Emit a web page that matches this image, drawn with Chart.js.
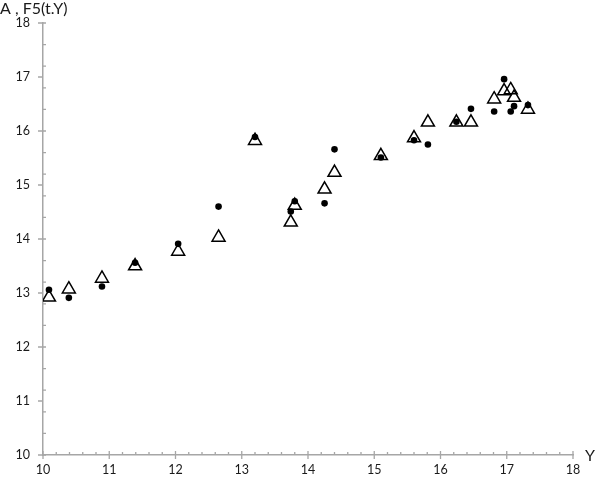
<!DOCTYPE html>
<html>
<head>
<meta charset="utf-8">
<script src="https://cdn.jsdelivr.net/npm/chart.js@4/dist/chart.umd.min.js"></script>
<style>
  html, body { margin: 0; padding: 0; background: #fff; }
  #wrap { width: 596px; height: 477px; position: relative; }
</style>
</head>
<body>
<div id="wrap"><canvas id="c" width="596" height="477"></canvas></div>
<script>
// Y values (x axis)
const yearValues = [10.09, 10.39, 10.89, 11.39, 12.04, 12.65, 13.20, 13.74, 13.80, 14.25, 14.40,
                    15.10, 15.60, 15.81, 16.24, 16.46, 16.81, 16.96, 17.06, 17.11, 17.32];
// A (filled dots)
const seriesA = [13.06, 12.91, 13.12, 13.56, 13.91, 14.60, 15.89, 14.51, 14.70, 14.66, 15.66,
                 15.51, 15.83, 15.75, 16.17, 16.41, 16.36, 16.96, 16.36, 16.46, 16.48];
// F5(t.Y) (open triangles)
const seriesF5 = [12.92, 13.07, 13.27, 13.50, 13.77, 14.03, 15.82, 14.31, 14.62, 14.92, 15.23,
                  15.54, 15.87, 16.16, 16.16, 16.16, 16.59, 16.74, 16.76, 16.62, 16.40];
const axisMin = 10, axisMax = 18;
const yTitle = "A , F5(t.Y)";
const xTitle = "Y";

const AXIS = '#a6a6a6';
const FONT = 'Lato, "Open Sans", sans-serif';

const toPts = (xs, ys) => xs.map((x, i) => ({x: x, y: ys[i]}));

const decor = {
  id: 'decor',
  afterDraw(chart) {
    const ctx = chart.ctx;
    const xs = chart.scales.x, ys = chart.scales.y;
    const x0 = xs.getPixelForValue(axisMin);
    const y0 = ys.getPixelForValue(axisMin);
    ctx.save();
    ctx.strokeStyle = AXIS;
    ctx.lineWidth = 1.3;
    ctx.beginPath();
    // y minor ticks every 0.4 (to the right)
    for (let k = 0; k <= 20; k++) {
      const py = ys.getPixelForValue(axisMin + k * 0.4);
      ctx.moveTo(x0, py); ctx.lineTo(x0 + 3, py);
    }
    // y major ticks (to the left)
    for (let v = axisMin; v <= axisMax; v++) {
      const py = ys.getPixelForValue(v);
      ctx.moveTo(x0 - 5, py); ctx.lineTo(x0, py);
    }
    // x minor ticks every 0.2 (above)
    for (let k = 0; k <= 40; k++) {
      const px = xs.getPixelForValue(axisMin + k * 0.2);
      ctx.moveTo(px, y0); ctx.lineTo(px, y0 - 3);
    }
    // x major ticks (crossing)
    for (let v = axisMin; v <= axisMax; v++) {
      const px = xs.getPixelForValue(v);
      ctx.moveTo(px, y0 - 4); ctx.lineTo(px, y0 + 4);
    }
    ctx.stroke();
    // titles
    ctx.fillStyle = '#1a1a1a';
    ctx.font = '16px ' + FONT;
    ctx.textBaseline = 'middle';
    ctx.textAlign = 'left';
    ctx.fillText(yTitle, 0, 9);
    ctx.fillText(xTitle, 585, y0 + 1);
    ctx.restore();
  }
};

new Chart(document.getElementById('c'), {
  type: 'scatter',
  data: {
    datasets: [
      {
        label: 'F5(t.Y)',
        data: toPts(yearValues, seriesF5),
        pointStyle: 'triangle',
        pointRadius: 7.5,
        pointHoverRadius: 7.5,
        pointBorderWidth: 1.5,
        borderColor: '#000',
        pointBorderColor: '#000',
        pointBackgroundColor: 'rgba(0,0,0,0)',
        backgroundColor: 'rgba(0,0,0,0)',
        order: 0
      },
      {
        label: 'A',
        data: toPts(yearValues, seriesA),
        pointStyle: 'circle',
        pointRadius: 3.3,
        pointHoverRadius: 3.3,
        pointBorderWidth: 0,
        pointBackgroundColor: '#000',
        backgroundColor: '#000',
        borderColor: '#000',
        order: 1
      }
    ]
  },
  options: {
    responsive: false,
    animation: false,
    events: [],
    layout: { padding: { top: 23, right: 23, left: 0, bottom: 0 } },
    plugins: { legend: { display: false }, tooltip: { enabled: false }, title: { display: false } },
    scales: {
      x: {
        type: 'linear',
        min: axisMin, max: axisMax,
        grid: { display: false, drawTicks: false },
        border: { display: true, color: AXIS, width: 1.5 },
        ticks: { stepSize: 1, padding: 7, color: '#1a1a1a', font: { family: FONT, size: 12.5 }, maxRotation: 0 },
        afterFit(s) { s.height = 22; }
      },
      y: {
        type: 'linear',
        min: axisMin, max: axisMax,
        grid: { display: false, drawTicks: false },
        border: { display: true, color: AXIS, width: 1.5 },
        ticks: { stepSize: 1, padding: 13, color: '#1a1a1a', font: { family: FONT, size: 12.5 } },
        afterFit(s) { s.width = 43; }
      }
    }
  },
  plugins: [decor]
});
</script>
</body>
</html>
